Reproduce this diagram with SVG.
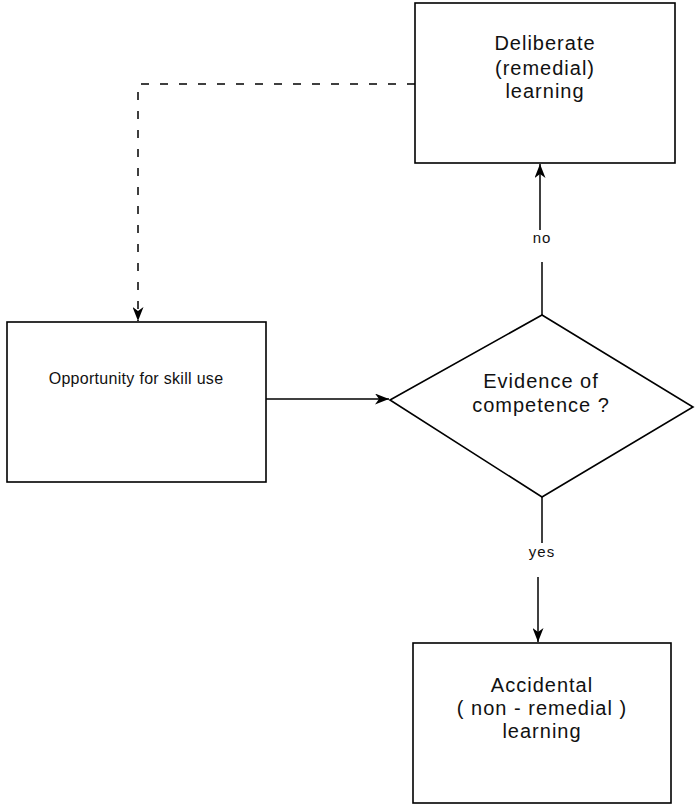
<svg xmlns="http://www.w3.org/2000/svg" width="695" height="807" viewBox="0 0 695 807">
<style>
.box{fill:#fff;stroke:#000;stroke-width:1.6}
.ln{fill:none;stroke:#000;stroke-width:1.5}
.dash{stroke-dasharray:8 11}
.big{font-family:"Liberation Sans",Arial,sans-serif;font-size:20px;letter-spacing:1px;text-anchor:middle;fill:#111}
.mid{font-family:"Liberation Sans",Arial,sans-serif;font-size:16px;letter-spacing:0.3px;text-anchor:middle;fill:#111}
.lbl{font-family:"Liberation Sans",Arial,sans-serif;font-size:15px;letter-spacing:1px;text-anchor:middle;fill:#111}
</style>
<defs>
<marker id="arr" viewBox="0 0 14 11" refX="14" refY="5.5" markerWidth="14" markerHeight="11" markerUnits="userSpaceOnUse" orient="auto">
<path d="M0,0 L14,5.5 L0,11 L4,5.5 Z" fill="#000"/>
</marker>
</defs>
<g id="connectors">
<path class="ln dash" d="M415,84 H138 V321" marker-end="url(#arr)"/>
<path class="ln" d="M266,399 H389" marker-end="url(#arr)"/>
<path class="ln" d="M542,315 V262"/>
<path class="ln" d="M540,230 V164" marker-end="url(#arr)"/>
<path class="ln" d="M542,497 V543"/>
<path class="ln" d="M538,577 V642" marker-end="url(#arr)"/>
<text class="lbl" x="542" y="243">no</text>
<text class="lbl" x="542" y="557">yes</text>
</g>
<g id="deliberate">
<rect class="box" x="415" y="3" width="260" height="160"/>
<text class="big" x="545" y="50">Deliberate</text>
<text class="big" x="545" y="75">(remedial)</text>
<text class="big" x="545" y="98">learning</text>
</g>
<g id="opportunity">
<rect class="box" x="7" y="322" width="259" height="160"/>
<text class="mid" x="136" y="384">Opportunity for skill use</text>
</g>
<g id="evidence">
<polygon class="box" points="390,400 542,315 693,407 542,497"/>
<text class="big" x="541" y="388">Evidence of</text>
<text class="big" x="541" y="412">competence ?</text>
</g>
<g id="accidental">
<rect class="box" x="413" y="643" width="258" height="160"/>
<text class="big" x="542" y="692">Accidental</text>
<text class="big" x="542" y="715">( non - remedial )</text>
<text class="big" x="542" y="738">learning</text>
</g>
</svg>
